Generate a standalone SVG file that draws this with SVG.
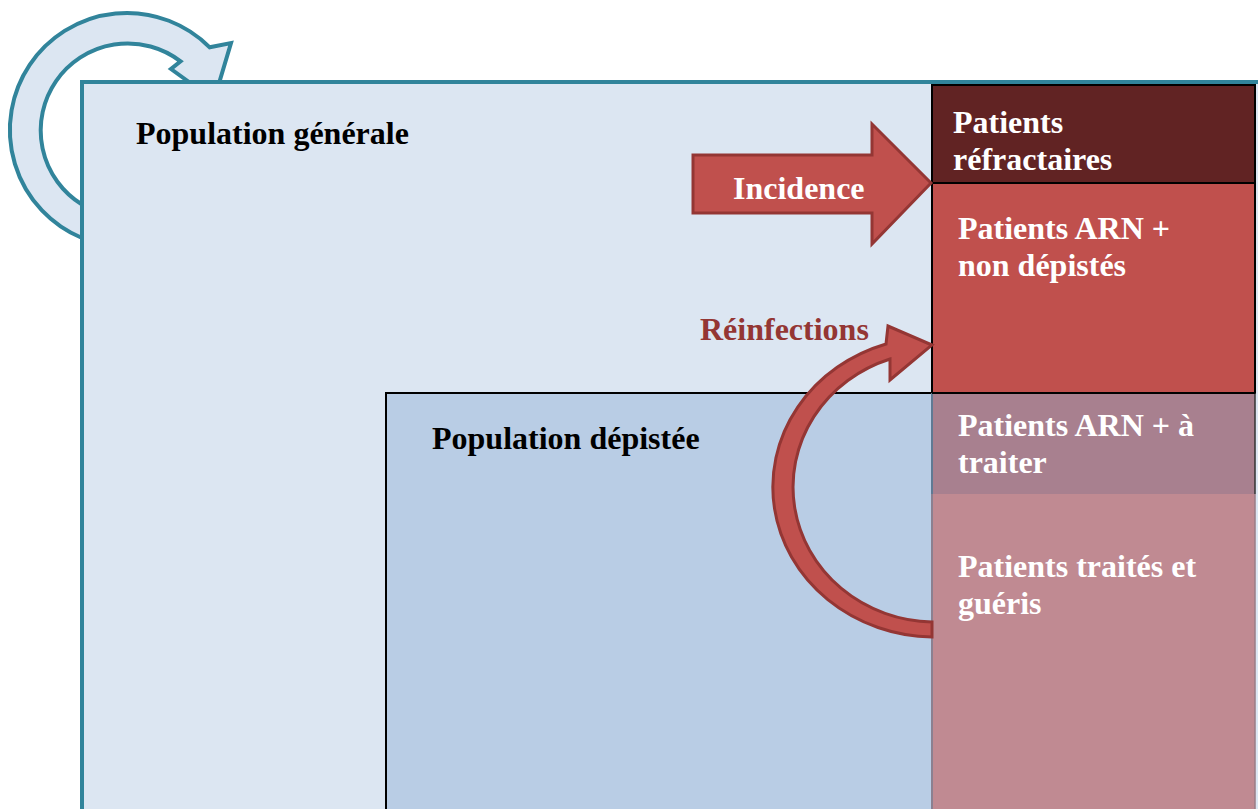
<svg xmlns="http://www.w3.org/2000/svg" width="1258" height="809" viewBox="0 0 1258 809">
<style>
.t{font-family:"Liberation Serif","Times New Roman",serif;font-weight:bold;font-size:32px}
.w{fill:#ffffff}
.k{fill:#000000}
.arrowR{fill:#C0504D;stroke:#943634;stroke-width:3;stroke-linejoin:miter}
</style>
<rect width="1258" height="809" fill="#ffffff"/>
<g id="connectors">
<path id="cycle" d="M82,238 A117,117 0 1 1 209.7,47.3 L231,43 L214,100 L171,69 L180.6,61.4 A87,87 0 1 0 82,204.5 Z" fill="#DCE6F2" stroke="#31849B" stroke-width="4" stroke-linejoin="miter"/>
</g>
<g id="population-generale">
<rect x="82" y="82" width="1190" height="740" fill="#DCE6F2" stroke="#31849B" stroke-width="4"/>
<text class="t k" x="136" y="144">Population générale</text>
</g>
<g id="population-depistee">
<rect x="386" y="393" width="546" height="430" fill="#B9CDE5" stroke="#000" stroke-width="2"/>
<text class="t k" x="432" y="449">Population dépistée</text>
</g>
<g id="refractaires">
<rect x="932" y="85" width="323" height="98" fill="#612323" stroke="#000" stroke-width="2"/>
<text class="t w" x="953" y="133">Patients</text>
<text class="t w" x="953" y="170">réfractaires</text>
</g>
<g id="arn-non-depistes">
<rect x="932" y="183" width="323" height="210" fill="#C0504D" stroke="#000" stroke-width="2"/>
<text class="t w" x="958" y="239">Patients ARN +</text>
<text class="t w" x="958" y="276">non dépistés</text>
</g>
<g id="arn-a-traiter">
<rect x="932" y="393" width="323" height="101" fill="#A8808F"/>
<line x1="932" y1="393" x2="932" y2="494" stroke="#5F7A94" stroke-width="2"/>
<line x1="1255" y1="393" x2="1255" y2="494" stroke="#333" stroke-width="1.5"/>
<line x1="932" y1="393" x2="1255" y2="393" stroke="#000" stroke-width="2"/>
<text class="t w" x="958" y="436">Patients ARN + à</text>
<text class="t w" x="958" y="473">traiter</text>
</g>
<g id="traites-gueris">
<rect x="932" y="494" width="323" height="330" fill="#C08A92"/>
<line x1="932" y1="494" x2="932" y2="809" stroke="#8B8090" stroke-width="2"/>
<line x1="1255" y1="494" x2="1255" y2="809" stroke="#9A7C86" stroke-width="1.5"/>
<text class="t w" x="958" y="577">Patients traités et</text>
<text class="t w" x="958" y="614">guéris</text>
</g>
<g id="arrows">
<path id="incidence" class="arrowR" d="M693,155 L872,155 L872,124 L931,183 L872,244 L872,213 L693,213 Z"/>
<text class="t w" x="733" y="199">Incidence</text>
<path id="reinfections" class="arrowR" d="M932,637 A162,150 0 0 1 886,344 L888,326 L932,345 L890,380 L890,359 A142,135 0 0 0 932,622 Z"/>
<text class="t" x="700" y="340" fill="#943634">Réinfections</text>
</g>
</svg>
